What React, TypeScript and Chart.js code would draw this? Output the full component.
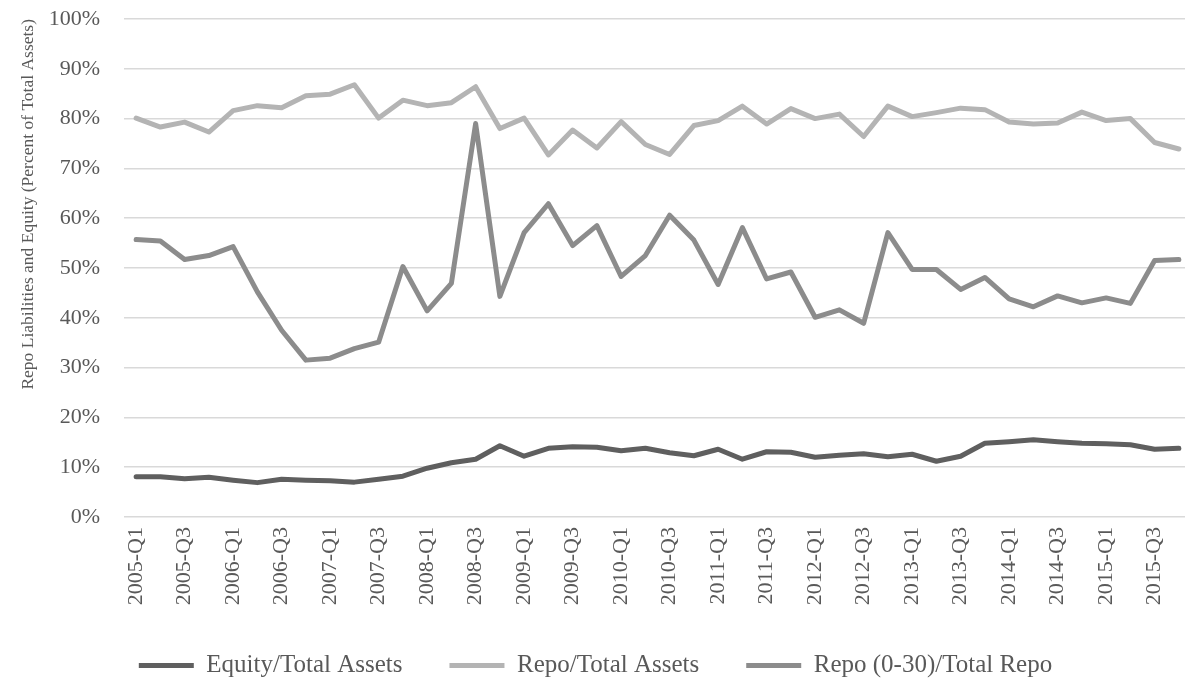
import React, { useEffect, useRef } from "react";
import { Chart, registerables } from "chart.js";

Chart.register(...registerables);

const years = [2005, 2006, 2007, 2008, 2009, 2010, 2011, 2012, 2013, 2014, 2015];
const quarters = ["Q1", "Q2", "Q3", "Q4"];
const categories: string[] = years.flatMap((y) => quarters.map((q) => `${y}-${q}`));

const equityTotalAssets = [
  8.1, 8.1, 7.7, 8.0, 7.4, 6.9, 7.6, 7.4, 7.3, 7.0, 7.6, 8.2,
  9.8, 10.9, 11.6, 14.3, 12.2, 13.8, 14.1, 14.0, 13.3, 13.8, 12.9, 12.3,
  13.6, 11.6, 13.1, 13.0, 12.0, 12.4, 12.7, 12.1, 12.6, 11.2, 12.2, 14.8,
  15.1, 15.5, 15.1, 14.8, 14.7, 14.5, 13.6, 13.8,
];

const repoTotalAssets = [
  80.1, 78.3, 79.3, 77.3, 81.6, 82.6, 82.2, 84.6, 84.9, 86.8, 80.1, 83.7,
  82.6, 83.2, 86.4, 78.0, 80.1, 72.7, 77.7, 74.1, 79.4, 74.8, 72.8, 78.6,
  79.6, 82.5, 78.9, 82.0, 80.0, 80.9, 76.4, 82.5, 80.4, 81.2, 82.1, 81.8,
  79.3, 78.9, 79.1, 81.3, 79.6, 80.0, 75.2, 73.9,
];

const repo030TotalRepo = [
  55.7, 55.4, 51.7, 52.5, 54.3, 45.2, 37.5, 31.5, 31.9, 33.8, 35.1, 50.3,
  41.4, 46.9, 79.0, 44.3, 57.1, 62.9, 54.5, 58.5, 48.3, 52.5, 60.6, 55.6,
  46.7, 58.1, 47.8, 49.2, 40.1, 41.6, 38.9, 57.1, 49.7, 49.7, 45.7, 48.1,
  43.8, 42.2, 44.4, 43.0, 44.0, 42.9, 51.5, 51.7,
];

const seriesNames = ["Equity/Total Assets", "Repo/Total Assets", "Repo (0-30)/Total Repo"];
const seriesColors = ["#5f5f5f", "#b4b4b4", "#8c8c8c"];

const FONT = "'Liberation Serif', 'Times New Roman', serif";
const TEXT = "#595959";

export default function App() {
  const ref = useRef<HTMLCanvasElement | null>(null);

  useEffect(() => {
    if (!ref.current) return;
    const values = [equityTotalAssets, repoTotalAssets, repo030TotalRepo];
    const chart = new Chart(ref.current, {
      type: "line",
      data: {
        labels: categories,
        datasets: seriesNames.map((name, i) => ({
          label: name,
          data: values[i],
          borderColor: seriesColors[i],
          backgroundColor: seriesColors[i],
          borderWidth: 5,
          borderCapStyle: "round" as const,
          borderJoinStyle: "round" as const,
          pointRadius: 0,
          pointHoverRadius: 0,
          tension: 0,
          fill: false,
        })),
      },
      options: {
        responsive: false,
        animation: false,
        devicePixelRatio: 1,
        layout: { padding: { top: 19, right: 0, bottom: 0, left: 0 } },
        plugins: {
          tooltip: { enabled: false },
          legend: {
            position: "bottom",
            labels: {
              usePointStyle: true,
              pointStyle: "line",
              pointStyleWidth: 55,
              padding: 47,
              color: TEXT,
              font: { family: FONT, size: 25 },
            },
          },
        },
        scales: {
          x: {
            type: "category",
            offset: true,
            grid: { display: false, drawTicks: false },
            border: { display: false },
            afterFit: (s: any) => {
              s.height = 89;
              s.paddingLeft = 0;
              s.paddingRight = 0;
            },
            ticks: {
              autoSkip: false,
              maxRotation: 90,
              minRotation: 90,
              padding: 10,
              color: TEXT,
              font: { family: FONT, size: 22 },
              callback: (_v: any, i: number) => (i % 2 === 0 ? categories[i] : ""),
            },
          },
          y: {
            min: 0,
            max: 100,
            afterFit: (s: any) => {
              s.width = 124;
              s.paddingTop = 0;
              s.paddingBottom = 0;
            },
            grid: { color: "#d9d9d9", lineWidth: 1.5, drawTicks: false },
            border: { display: false },
            ticks: {
              stepSize: 10,
              padding: 24,
              color: TEXT,
              font: { family: FONT, size: 22 },
              callback: (v: any) => `${v}%`,
            },
            title: {
              display: true,
              align: "end",
              text: "Repo Liabilities and Equity (Percent of Total Assets)",
              color: TEXT,
              font: { family: FONT, size: 17.5 },
              padding: { top: 18, bottom: 0 },
            },
          },
        },
      },
    });
    return () => chart.destroy();
  }, []);

  return (
    <div
      style={{
        position: "fixed",
        left: 0,
        top: 0,
        width: 1185,
        height: 681,
        overflow: "hidden",
        background: "#ffffff",
      }}
    >
      <canvas ref={ref} width={1191} height={688} style={{ width: 1191, height: 688, display: "block" }} />
    </div>
  );
}
